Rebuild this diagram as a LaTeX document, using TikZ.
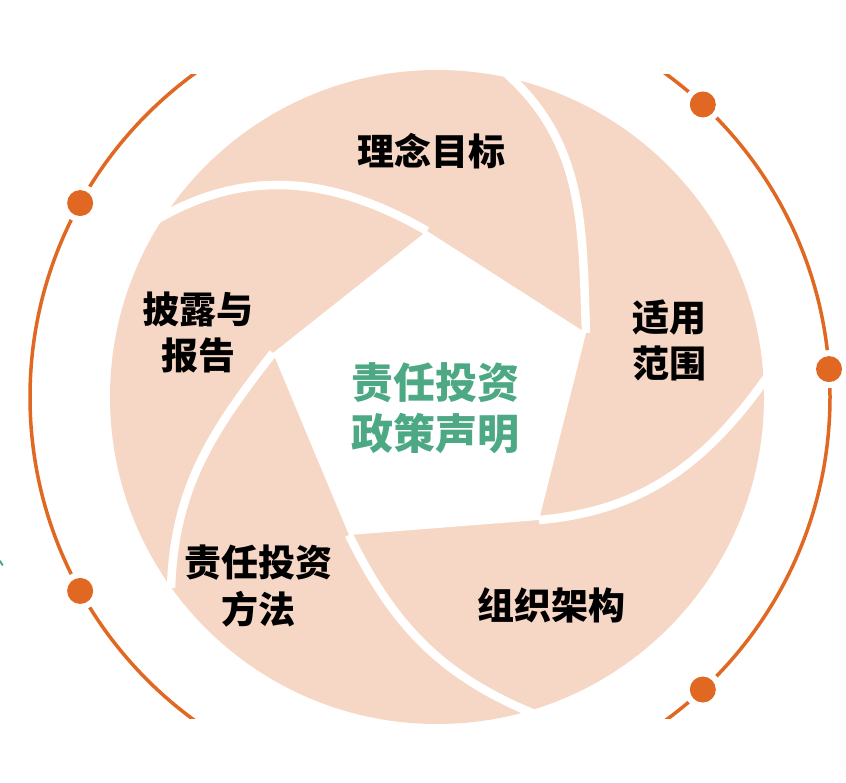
\documentclass[tikz,border=0pt]{standalone}
\usepackage{fontspec}
\newfontfamily\cjk{Noto Sans CJK SC}
\usepackage{tikz}
\usetikzlibrary{calc}
\definecolor{petal}{HTML}{F6D6C4}
\definecolor{ringorange}{HTML}{E06822}
\definecolor{policygreen}{HTML}{4DA884}

\begin{document}
\begin{tikzpicture}[x=1pt, y=1pt, line cap=round, line join=round,
    orbit/.style={ringorange, line width=3.5pt},
    halo/.style={fill=white},
    knob/.style={fill=ringorange},
    seam/.style={white, line width=8.5pt, line cap=butt},
    bladetext/.style={font=\cjk\bfseries\fontsize{37}{46}\selectfont, align=center, inner sep=0pt},
    policy/.style={font=\cjk\bfseries\fontsize{42}{51}\selectfont, align=center, inner sep=0pt, text=policygreen}]
  \useasboundingbox (0,0) rectangle (846,782);
  %--- Outer ring
    \begin{scope}
      \clip (0,64) rectangle (846,707);
      \draw[orbit] (430,385) circle (400pt);
    \end{scope}
    \coordinate (ringc) at (430,385);
    \fill[halo] ($(ringc)+(151:400pt)$) circle (19pt);
    \fill[knob] ($(ringc)+(151:400pt)$) circle (13pt);
    \fill[halo] ($(ringc)+(47:400pt)$) circle (19pt);
    \fill[knob] ($(ringc)+(47:400pt)$) circle (13pt);
    \fill[halo] ($(ringc)+(4:400pt)$) circle (19pt);
    \fill[knob] ($(ringc)+(4:400pt)$) circle (13pt);
    \fill[halo] ($(ringc)+(-47:400pt)$) circle (19pt);
    \fill[knob] ($(ringc)+(-47:400pt)$) circle (13pt);
    \fill[halo] ($(ringc)+(209:400pt)$) circle (19pt);
    \fill[knob] ($(ringc)+(209:400pt)$) circle (13pt);
    \draw[policygreen, line width=2pt] (0,221) -- (2.5,217);
  %--- Aperture disk
    \fill[petal] (437,385) circle (327pt);
  %--- Pentagon corners and seam ends
    \coordinate (v1) at (427,551);
    \coordinate (v2) at (586,449);
    \coordinate (v3) at (539,262);
    \coordinate (v4) at (349,247);
    \coordinate (v5) at (273,429);
    \coordinate (g1) at (158,563);
    \coordinate (g2) at (506,709);
    \coordinate (g3) at (770,409);
    \coordinate (g4) at (537,67);
    \coordinate (g5) at (171,194);
  %--- Seams between blades
    \draw[seam] (v1) to[out=150, in=30] (g1);
    \draw[seam] (v2) to[out=92, in=-42] (g2);
    \draw[seam] (v3) to[out=5, in=-125] (g3);
    \draw[seam] (v4) to[out=-64, in=158] (g4);
    \draw[seam] (v5) to[out=-128, in=88] (g5);
  %--- Centre opening
    \fill[white] (v1) -- (v2) -- (v3) -- (v4) -- (v5) -- cycle;
  %--- Labels
    \node[policy] (policy) at (435,374) {责任投资\\政策声明};
    \node[bladetext] (goal) at (431,631) {理念目标};
    \node[bladetext] (scope) at (669,442) {适用\\范围};
    \node[bladetext] (org) at (551,177) {组织架构};
    \node[bladetext, font=\cjk\bfseries\fontsize{37}{47}\selectfont] (method) at (258,196) {责任投资\\方法};
    \node[bladetext] (report) at (198,449.5) {披露与\\报告};
\end{tikzpicture}
\end{document}
